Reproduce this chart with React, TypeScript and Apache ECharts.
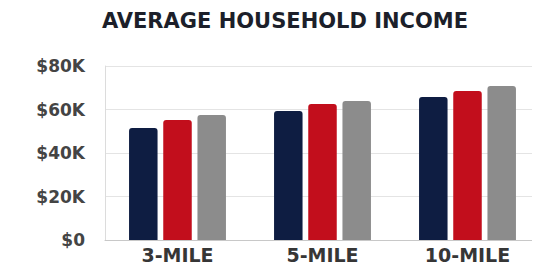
import React, { useEffect, useRef } from "react";
import * as echarts from "echarts";

const categories = ["3-MILE", "5-MILE", "10-MILE"];
const seriesA = [51500, 59300, 65700];
const seriesB = [55200, 62500, 68500];
const seriesC = [57500, 63900, 70800];
const yTicks = [0, 20000, 40000, 60000, 80000];
const titleText = "AVERAGE HOUSEHOLD INCOME";

export default function App() {
  const ref = useRef<HTMLDivElement>(null);
  useEffect(() => {
    const chart = echarts.init(ref.current!, null, { renderer: "svg" });
    const colors = ["#0e1d42", "#c20e1c", "#8c8c8c"];
    const data = [seriesA, seriesB, seriesC];
    chart.setOption({
      animation: false,
      backgroundColor: "#ffffff",
      title: {
        text: titleText,
        left: 280,
        textAlign: "center",
        top: 5,
        textStyle: {
          fontFamily: "DejaVu Sans",
          fontWeight: "bold",
          fontSize: 21,
          color: "#1c1f2a",
        },
      },
      grid: { left: 105, right: -6, top: 66, bottom: 31 },
      xAxis: {
        type: "category",
        data: categories,
        axisLine: { show: true, lineStyle: { color: "#c8c8c8", width: 1 } },
        axisTick: { show: false },
        axisLabel: {
          margin: 5,
          fontFamily: "DejaVu Sans",
          fontWeight: "bold",
          fontSize: 19,
          lineHeight: 19,
          color: "#363636",
        },
      },
      yAxis: {
        type: "value",
        min: 0,
        max: 80000,
        interval: 20000,
        axisLine: { show: true, lineStyle: { color: "#dcdcdc" } },
        axisTick: { show: false },
        splitLine: { lineStyle: { color: "#e4e4e4", width: 1 } },
        axisLabel: {
          margin: 20,
          fontFamily: "DejaVu Sans",
          fontWeight: "bold",
          fontSize: 17,
          color: "#444444",
          formatter: (v: number) =>
            yTicks.includes(v) ? (v === 0 ? "$0" : "$" + v / 1000 + "K") : "",
        },
      },
      series: data.map((d, i) => ({
        type: "bar",
        data: d,
        barWidth: 28.5,
        barGap: "20%",
        itemStyle: { color: colors[i], borderRadius: [3, 3, 0, 0] },
      })),
    });
    return () => chart.dispose();
  }, []);
  return <div ref={ref} style={{ width: 540, height: 271, margin: -8 }} />;
}
